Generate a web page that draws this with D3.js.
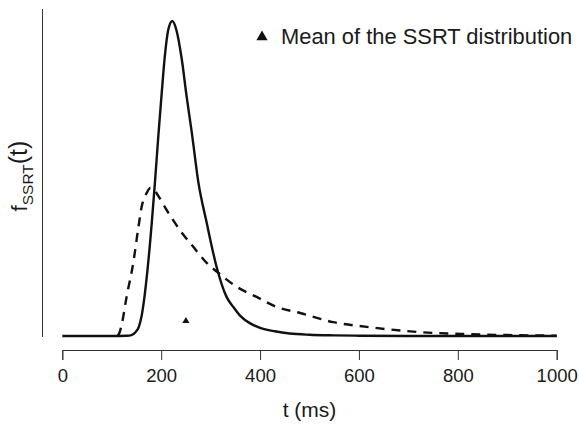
<!DOCTYPE html>
<html>
<head>
<meta charset="utf-8">
<script src="https://cdn.jsdelivr.net/npm/d3@7"></script>
<style>
  body { margin: 0; background: #fff; }
  text { font-family: "Liberation Sans", Arial, sans-serif; fill: #1a1a1a; }
</style>
</head>
<body>
<div id="chart"></div>
<script>
// values (relative density, solid peak = 1)
const solidT = [0, 100, 130, 140, 148, 155, 160, 165, 171, 181, 187.5, 194, 201, 207.5, 214, 222.5, 231, 241.5, 251.5, 262, 275, 292, 312, 332, 346, 360, 380, 400, 430, 460, 500, 550, 600, 700, 1000];
const solidF = [0, 0, 0.001, 0.003, 0.012, 0.03, 0.06, 0.11, 0.19, 0.36, 0.49, 0.63, 0.77, 0.89, 0.97, 1.0, 0.97, 0.88, 0.76, 0.645, 0.49, 0.36, 0.22, 0.125, 0.092, 0.064, 0.04, 0.026, 0.015, 0.008, 0.004, 0.002, 0.001, 0, 0];

const dashT = [112, 116, 120, 130, 143.5, 154, 160.5, 171, 178, 184, 192, 211, 238, 265, 292, 316, 353, 393, 434, 481, 548, 616, 717, 818, 900, 1000];
const dashF = [0, 0.012, 0.035, 0.124, 0.232, 0.346, 0.41, 0.455, 0.47, 0.468, 0.45, 0.4, 0.336, 0.283, 0.232, 0.2, 0.156, 0.124, 0.092, 0.073, 0.044, 0.029, 0.013, 0.006, 0.003, 0.001];

const meanT = 250;
const xTicks = [0, 200, 400, 600, 800, 1000];
const legendLabel = "Mean of the SSRT distribution";

const W = 579, H = 430;
const svg = d3.select("#chart").append("svg")
  .attr("width", W).attr("height", H);

const x = d3.scaleLinear().domain([0, 1000]).range([62.3, 556.7]);
const y = d3.scaleLinear().domain([0, 1]).range([336, 21]);

// y axis line (no ticks)
svg.append("line")
  .attr("x1", 42.5).attr("x2", 42.5)
  .attr("y1", 9).attr("y2", 337)
  .attr("stroke", "#333").attr("stroke-width", 1);

// x axis
const xAxis = svg.append("g")
  .attr("transform", "translate(0,350)")
  .call(d3.axisBottom(x).tickValues(xTicks).tickSize(10).tickPadding(9).tickFormat(d3.format("d")));
xAxis.select(".domain").attr("stroke", "#333");
xAxis.selectAll(".tick line").attr("stroke", "#333");
xAxis.selectAll("text")
  .style("font-size", "18.5px")
  .style("font-family", "Liberation Sans, Arial, sans-serif")
  .attr("fill", "#1a1a1a");

const line = d3.line().curve(d3.curveMonotoneX);

const solid = solidT.map((t, i) => [x(t), y(solidF[i])]);
const dashed = dashT.map((t, i) => [x(t), y(dashF[i])]);

svg.append("path")
  .attr("d", line(dashed))
  .attr("fill", "none")
  .attr("stroke", "#111")
  .attr("stroke-width", 2.4)
  .attr("stroke-dasharray", "9,7");

svg.append("path")
  .attr("d", line(solid))
  .attr("fill", "none")
  .attr("stroke", "#111")
  .attr("stroke-width", 2.4);

// mean marker
svg.append("path")
  .attr("d", d3.symbol(d3.symbolTriangle, 22)())
  .attr("transform", `translate(${x(meanT)},321)`)
  .attr("fill", "#111");

// legend
svg.append("path")
  .attr("d", d3.symbol(d3.symbolTriangle, 55)())
  .attr("transform", "translate(262,37)")
  .attr("fill", "#111");
svg.append("text")
  .attr("x", 281).attr("y", 44)
  .style("font-size", "21.9px")
  .text(legendLabel);

// axis titles
svg.append("text")
  .attr("x", x(500)).attr("y", 417)
  .attr("text-anchor", "middle")
  .style("font-size", "21px")
  .text("t (ms)");

const yl = svg.append("text")
  .attr("transform", "translate(27,176) rotate(-90)")
  .attr("text-anchor", "middle")
  .style("font-size", "22px");
yl.append("tspan").text("f");
yl.append("tspan").attr("dy", 6).style("font-size", "15.5px").text("SSRT");
yl.append("tspan").attr("dy", -6).style("font-size", "25px").text("(t)");
</script>
</body>
</html>
